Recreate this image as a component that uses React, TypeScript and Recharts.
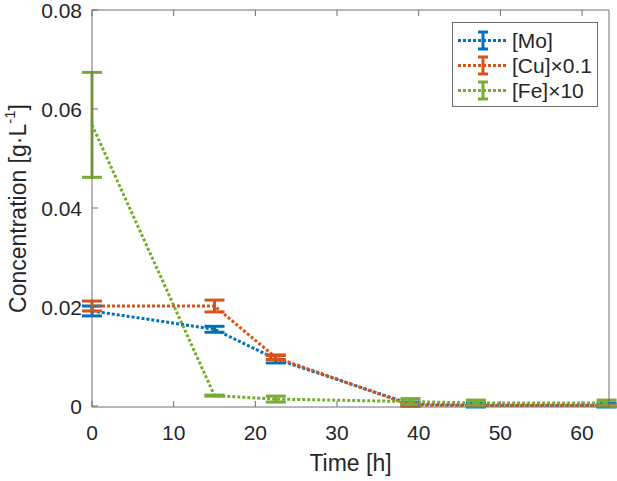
import { ErrorBar, Line, LineChart, XAxis, YAxis } from "recharts";

const FONT = "'Liberation Sans', Arial, Helvetica, sans-serif";
const INK = "#262626";
const AX = "#6e6e6e";
const BLUE = "#0072BD";
const ORANGE = "#D95319";
const GREEN = "#77AC30";

// time points [h]
const time = [0, 15, 22.5, 39, 47, 63];

// [Mo]
const mo = [0.0192, 0.0155, 0.0095, 0.0004, 0.0002, 0.0002];
const moErr = [0.001, 0.0006, 0.0008, 0.0004, 0.0004, 0.0004];
// [Cu] x 0.1
const cu = [0.0202, 0.0202, 0.0098, 0.0002, 0.0001, 0.0001];
const cuErr = [0.001, 0.0012, 0.0004, 0.0002, 0.0002, 0.0002];
// [Fe] x 10
const fe = [0.0568, 0.0021, 0.0014, 0.0009, 0.0006, 0.0006];
const feErr = [0.0106, 0.0001, 0.0006, 0.0006, 0.0006, 0.0006];

const xTicks = [0, 10, 20, 30, 40, 50, 60];
const yTicks = [0, 0.02, 0.04, 0.06, 0.08];

const series = [
  { key: "mo", label: "[Mo]", color: BLUE },
  { key: "cu", label: "[Cu]×0.1", color: ORANGE },
  { key: "fe", label: "[Fe]×10", color: GREEN },
];

const data = time.map((t, i) => ({
  t,
  mo: mo[i],
  moErr: moErr[i],
  cu: cu[i],
  cuErr: cuErr[i],
  fe: fe[i],
  feErr: feErr[i],
}));

const TICK_LEN = 6;
const TICK_FONT = 21;
const LW = 3;

// MATLAB style ticks point inward
function BottomTick(props: any) {
  const { x, y, payload } = props;
  return (
    <g>
      <line x1={x} x2={x} y1={y} y2={y - TICK_LEN} stroke={AX} />
      <text x={x} y={y + 33} textAnchor="middle" fontSize={TICK_FONT} fill={INK} fontFamily={FONT}>
        {payload.value}
      </text>
    </g>
  );
}

function TopTick(props: any) {
  const { x, y } = props;
  return <line x1={x} x2={x} y1={y} y2={y + TICK_LEN} stroke={AX} />;
}

function LeftTick(props: any) {
  const { x, y, payload } = props;
  return (
    <g>
      <line x1={x} x2={x + TICK_LEN} y1={y} y2={y} stroke={AX} />
      <text x={x - 10} y={y + 8} textAnchor="end" fontSize={TICK_FONT} fill={INK} fontFamily={FONT}>
        {String(payload.value)}
      </text>
    </g>
  );
}

function RightTick(props: any) {
  const { x, y } = props;
  return <line x1={x} x2={x - TICK_LEN} y1={y} y2={y} stroke={AX} />;
}

function YLabel(props: any) {
  const vb = props.viewBox;
  const cy = vb.y + vb.height / 2;
  const cx = 18;
  return (
    <text
      x={cx}
      y={cy}
      transform={`rotate(-90 ${cx} ${cy})`}
      textAnchor="middle"
      dominantBaseline="central"
      fontSize={23}
      fill={INK}
      fontFamily={FONT}
    >
      Concentration [g·L
      <tspan baselineShift="super" fontSize={15}>
        -1
      </tspan>
      ]
    </text>
  );
}

function LegendBox() {
  return (
    <div
      style={{
        position: "absolute",
        left: 452,
        top: 22,
        width: 146,
        boxSizing: "border-box",
        border: `1px solid ${AX}`,
        background: "#fff",
        padding: "5px 6px 3px 4px",
        fontFamily: FONT,
        fontSize: 21,
        color: INK,
        lineHeight: "25px",
      }}
    >
      {series.map((s) => (
        <div key={s.key} style={{ display: "flex", alignItems: "center", height: 25 }}>
          <svg width={52} height={25} style={{ flex: "none" }}>
            <line x1={1} x2={51} y1={12.5} y2={12.5} stroke={s.color} strokeWidth={LW} strokeDasharray="3 2" />
            <line x1={26} x2={26} y1={4} y2={21} stroke={s.color} strokeWidth={LW} />
            <line x1={21} x2={31} y1={4} y2={4} stroke={s.color} strokeWidth={LW} />
            <line x1={21} x2={31} y1={21} y2={21} stroke={s.color} strokeWidth={LW} />
          </svg>
          <span style={{ marginLeft: 3, whiteSpace: "nowrap" }}>{s.label}</span>
        </div>
      ))}
    </div>
  );
}

export default function App() {
  return (
    <div style={{ position: "absolute", left: 0, top: 0, width: 617, height: 481, background: "#fff" }}>
      <LineChart width={617} height={481} data={data} margin={{ top: 9, right: 7, bottom: 0, left: 0 }}>
        <XAxis
          xAxisId="b"
          dataKey="t"
          type="number"
          domain={[0, 63.3]}
          ticks={xTicks}
          allowDataOverflow
          height={74}
          tickSize={0}
          tickMargin={0}
          tick={<BottomTick />}
          tickLine={false}
          axisLine={{ stroke: AX }}
          label={{ value: "Time [h]", position: "insideBottom", offset: 10, fontSize: 23, fill: INK, fontFamily: FONT }}
        />
        <XAxis
          xAxisId="t"
          orientation="top"
          dataKey="t"
          type="number"
          domain={[0, 63.3]}
          ticks={xTicks}
          allowDataOverflow
          height={1}
          tickSize={0}
          tickMargin={0}
          tick={<TopTick />}
          tickLine={false}
          axisLine={{ stroke: AX }}
        />
        <YAxis
          yAxisId="l"
          type="number"
          domain={[0, 0.08]}
          ticks={yTicks}
          width={92}
          tickSize={0}
          tickMargin={0}
          tick={<LeftTick />}
          tickLine={false}
          axisLine={{ stroke: AX }}
          label={<YLabel />}
        />
        <YAxis
          yAxisId="r"
          orientation="right"
          type="number"
          domain={[0, 0.08]}
          ticks={yTicks}
          width={1}
          tickSize={0}
          tickMargin={0}
          tick={<RightTick />}
          tickLine={false}
          axisLine={{ stroke: AX }}
        />
        {series.map((s) => (
          <Line
            key={s.key}
            xAxisId="b"
            yAxisId="l"
            type="linear"
            dataKey={s.key}
            stroke={s.color}
            strokeWidth={LW}
            strokeDasharray="3 2"
            dot={false}
            activeDot={false}
            isAnimationActive={false}
          >
            <ErrorBar dataKey={`${s.key}Err`} direction="y" width={10} stroke={s.color} strokeWidth={LW} isAnimationActive={false} />
          </Line>
        ))}
      </LineChart>
      <LegendBox />
    </div>
  );
}
